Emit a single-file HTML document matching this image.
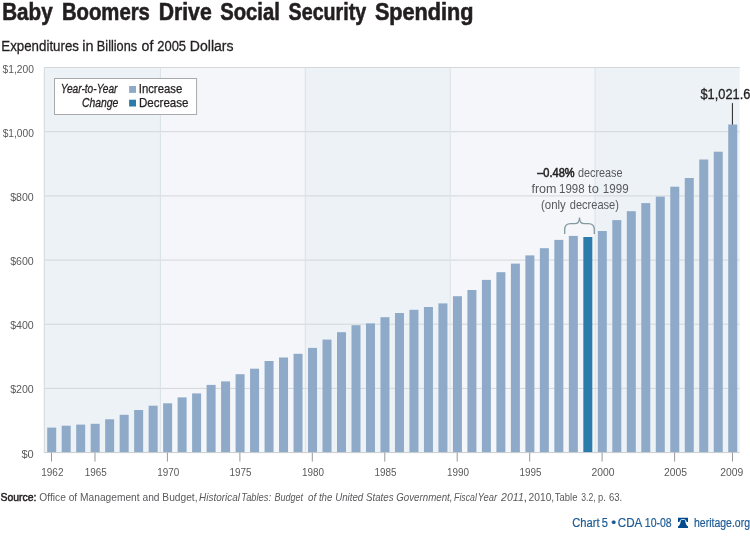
<!DOCTYPE html>
<html><head><meta charset="utf-8"><title>Baby Boomers Drive Social Security Spending</title>
<style>
html,body{margin:0;padding:0;background:#fff;}
body{width:750px;height:536px;overflow:hidden;font-family:"Liberation Sans",sans-serif;}
svg{display:block;font-family:"Liberation Sans",sans-serif;will-change:transform;}
</style></head><body>
<svg width="750" height="536" viewBox="0 0 750 536">
<rect x="0" y="0" width="750" height="536" fill="#ffffff"/>
<rect x="44.3" y="67.5" width="116.1" height="385.1" fill="#edf2f6"/>
<rect x="160.4" y="67.5" width="144.9" height="385.1" fill="#f4f6f9"/>
<rect x="305.3" y="67.5" width="144.9" height="385.1" fill="#edf2f6"/>
<rect x="450.2" y="67.5" width="144.9" height="385.1" fill="#f4f6f9"/>
<rect x="595.1" y="67.5" width="144.6" height="385.1" fill="#edf2f6"/>
<line x1="44.3" x2="739.7" y1="388.4" y2="388.4" stroke="#d3d7da" stroke-width="1"/>
<line x1="44.3" x2="739.7" y1="324.2" y2="324.2" stroke="#d3d7da" stroke-width="1"/>
<line x1="44.3" x2="739.7" y1="260.1" y2="260.1" stroke="#d3d7da" stroke-width="1"/>
<line x1="44.3" x2="739.7" y1="195.9" y2="195.9" stroke="#d3d7da" stroke-width="1"/>
<line x1="44.3" x2="739.7" y1="131.7" y2="131.7" stroke="#d3d7da" stroke-width="1"/>
<line x1="44.3" x2="739.7" y1="67.5" y2="67.5" stroke="#d3d7da" stroke-width="1"/>
<line x1="160.4" x2="160.4" y1="67.5" y2="452.6" stroke="#dbe1e7" stroke-width="1"/>
<line x1="305.3" x2="305.3" y1="67.5" y2="452.6" stroke="#dbe1e7" stroke-width="1"/>
<line x1="450.2" x2="450.2" y1="67.5" y2="452.6" stroke="#dbe1e7" stroke-width="1"/>
<line x1="595.1" x2="595.1" y1="67.5" y2="452.6" stroke="#dbe1e7" stroke-width="1"/>
<line x1="44.3" x2="44.3" y1="67.5" y2="452.6" stroke="#d3d7da" stroke-width="1"/>
<rect x="47.20" y="427.6" width="9.0" height="25.0" fill="#8eaac8"/>
<rect x="61.69" y="425.7" width="9.0" height="26.9" fill="#8eaac8"/>
<rect x="76.18" y="424.6" width="9.0" height="28.0" fill="#8eaac8"/>
<rect x="90.67" y="423.8" width="9.0" height="28.8" fill="#8eaac8"/>
<rect x="105.16" y="419.3" width="9.0" height="33.3" fill="#8eaac8"/>
<rect x="119.65" y="414.8" width="9.0" height="37.8" fill="#8eaac8"/>
<rect x="134.14" y="410.0" width="9.0" height="42.6" fill="#8eaac8"/>
<rect x="148.63" y="405.7" width="9.0" height="46.9" fill="#8eaac8"/>
<rect x="163.12" y="403.3" width="9.0" height="49.3" fill="#8eaac8"/>
<rect x="177.61" y="397.4" width="9.0" height="55.2" fill="#8eaac8"/>
<rect x="192.10" y="393.4" width="9.0" height="59.2" fill="#8eaac8"/>
<rect x="206.59" y="384.9" width="9.0" height="67.7" fill="#8eaac8"/>
<rect x="221.08" y="381.4" width="9.0" height="71.2" fill="#8eaac8"/>
<rect x="235.57" y="374.2" width="9.0" height="78.4" fill="#8eaac8"/>
<rect x="250.06" y="368.7" width="9.0" height="83.9" fill="#8eaac8"/>
<rect x="264.55" y="361.0" width="9.0" height="91.6" fill="#8eaac8"/>
<rect x="279.04" y="357.5" width="9.0" height="95.1" fill="#8eaac8"/>
<rect x="293.53" y="353.8" width="9.0" height="98.8" fill="#8eaac8"/>
<rect x="308.02" y="347.9" width="9.0" height="104.7" fill="#8eaac8"/>
<rect x="322.51" y="339.6" width="9.0" height="113.0" fill="#8eaac8"/>
<rect x="337.00" y="332.2" width="9.0" height="120.4" fill="#8eaac8"/>
<rect x="351.49" y="325.2" width="9.0" height="127.4" fill="#8eaac8"/>
<rect x="365.98" y="323.4" width="9.0" height="129.2" fill="#8eaac8"/>
<rect x="380.47" y="317.2" width="9.0" height="135.4" fill="#8eaac8"/>
<rect x="394.96" y="313.0" width="9.0" height="139.6" fill="#8eaac8"/>
<rect x="409.45" y="309.8" width="9.0" height="142.8" fill="#8eaac8"/>
<rect x="423.94" y="307.0" width="9.0" height="145.6" fill="#8eaac8"/>
<rect x="438.43" y="303.4" width="9.0" height="149.2" fill="#8eaac8"/>
<rect x="452.92" y="296.2" width="9.0" height="156.4" fill="#8eaac8"/>
<rect x="467.41" y="290.0" width="9.0" height="162.6" fill="#8eaac8"/>
<rect x="481.90" y="279.9" width="9.0" height="172.7" fill="#8eaac8"/>
<rect x="496.39" y="272.2" width="9.0" height="180.4" fill="#8eaac8"/>
<rect x="510.88" y="263.6" width="9.0" height="189.0" fill="#8eaac8"/>
<rect x="525.37" y="255.4" width="9.0" height="197.2" fill="#8eaac8"/>
<rect x="539.86" y="248.2" width="9.0" height="204.4" fill="#8eaac8"/>
<rect x="554.35" y="239.9" width="9.0" height="212.7" fill="#8eaac8"/>
<rect x="568.84" y="235.9" width="9.0" height="216.7" fill="#8eaac8"/>
<rect x="583.33" y="237.0" width="9.0" height="215.6" fill="#2b7cab"/>
<rect x="597.82" y="231.0" width="9.0" height="221.6" fill="#8eaac8"/>
<rect x="612.31" y="220.1" width="9.0" height="232.5" fill="#8eaac8"/>
<rect x="626.80" y="211.2" width="9.0" height="241.4" fill="#8eaac8"/>
<rect x="641.29" y="203.1" width="9.0" height="249.5" fill="#8eaac8"/>
<rect x="655.78" y="196.6" width="9.0" height="256.0" fill="#8eaac8"/>
<rect x="670.27" y="186.7" width="9.0" height="265.9" fill="#8eaac8"/>
<rect x="684.76" y="178.0" width="9.0" height="274.6" fill="#8eaac8"/>
<rect x="699.25" y="159.5" width="9.0" height="293.1" fill="#8eaac8"/>
<rect x="713.74" y="151.7" width="9.0" height="300.9" fill="#8eaac8"/>
<rect x="728.23" y="124.5" width="9.0" height="328.1" fill="#8eaac8"/>
<line x1="44.3" x2="739.7" y1="452.6" y2="452.6" stroke="#c9cdd0" stroke-width="1"/>
<line x1="51.5" x2="51.5" y1="452.6" y2="461.6" stroke="#97999c" stroke-width="1"/>
<line x1="95.0" x2="95.0" y1="452.6" y2="461.6" stroke="#97999c" stroke-width="1"/>
<line x1="167.4" x2="167.4" y1="452.6" y2="461.6" stroke="#97999c" stroke-width="1"/>
<line x1="239.9" x2="239.9" y1="452.6" y2="461.6" stroke="#97999c" stroke-width="1"/>
<line x1="312.3" x2="312.3" y1="452.6" y2="461.6" stroke="#97999c" stroke-width="1"/>
<line x1="384.8" x2="384.8" y1="452.6" y2="461.6" stroke="#97999c" stroke-width="1"/>
<line x1="457.2" x2="457.2" y1="452.6" y2="461.6" stroke="#97999c" stroke-width="1"/>
<line x1="529.7" x2="529.7" y1="452.6" y2="461.6" stroke="#97999c" stroke-width="1"/>
<line x1="602.1" x2="602.1" y1="452.6" y2="461.6" stroke="#97999c" stroke-width="1"/>
<line x1="674.6" x2="674.6" y1="452.6" y2="461.6" stroke="#97999c" stroke-width="1"/>
<line x1="732.5" x2="732.5" y1="452.6" y2="461.6" stroke="#97999c" stroke-width="1"/>
<rect x="54.5" y="78.5" width="142.1" height="36" fill="#ffffff" stroke="#a7a9ac" stroke-width="1"/>
<rect x="129.1" y="86.0" width="6.9" height="6.9" fill="#8eaac8"/>
<rect x="129.1" y="99.7" width="6.9" height="6.8" fill="#2b7cab"/>
<path d="M564.7 234 V229.6 Q564.7 223.6 570.7 223.6 H574.6 Q579.5 223.6 579.5 217.4 Q579.5 223.6 584.4 223.6 H588.3 Q594.3 223.6 594.3 229.6 V234" fill="none" stroke="#8398a1" stroke-width="1.3"/>
<line x1="732.4" x2="732.4" y1="103.1" y2="124.6" stroke="#231f20" stroke-width="1"/>
<g fill="#004b8d"><path d="M678 517.8 H688 V521.9 H686.7 Q686 518.9 683 518.9 Q680 518.9 679.3 521.9 H678 Z"/><path d="M680.8 520.3 Q683 519.2 685.2 520.3 C685.5 523.8 686.2 525.2 688 526.6 V527.9 H678 V526.6 C679.8 525.2 680.5 523.8 680.8 520.3 Z"/></g>
<text x="2.21" y="19.5" font-size="24" fill="#231f20" textLength="50.45" lengthAdjust="spacingAndGlyphs" font-weight="bold" stroke="#231f20" stroke-width="0.6">Baby</text>
<text x="61.93" y="19.5" font-size="24" fill="#231f20" textLength="87.94" lengthAdjust="spacingAndGlyphs" font-weight="bold" stroke="#231f20" stroke-width="0.6">Boomers</text>
<text x="158.68" y="19.5" font-size="24" fill="#231f20" textLength="53.03" lengthAdjust="spacingAndGlyphs" font-weight="bold" stroke="#231f20" stroke-width="0.6">Drive</text>
<text x="220.17" y="19.5" font-size="24" fill="#231f20" textLength="59.67" lengthAdjust="spacingAndGlyphs" font-weight="bold" stroke="#231f20" stroke-width="0.6">Social</text>
<text x="288.59" y="19.5" font-size="24" fill="#231f20" textLength="77.59" lengthAdjust="spacingAndGlyphs" font-weight="bold" stroke="#231f20" stroke-width="0.6">Security</text>
<text x="374.92" y="19.5" font-size="24" fill="#231f20" textLength="98.60" lengthAdjust="spacingAndGlyphs" font-weight="bold" stroke="#231f20" stroke-width="0.6">Spending</text>
<text x="1.30" y="50.9" font-size="15.2" fill="#231f20" textLength="77.67" lengthAdjust="spacingAndGlyphs" stroke="#231f20" stroke-width="0.3">Expenditures</text>
<text x="82.25" y="50.9" font-size="15.2" fill="#231f20" textLength="11.28" lengthAdjust="spacingAndGlyphs" stroke="#231f20" stroke-width="0.3">in</text>
<text x="96.85" y="50.9" font-size="15.2" fill="#231f20" textLength="40.27" lengthAdjust="spacingAndGlyphs" stroke="#231f20" stroke-width="0.3">Billions</text>
<text x="141.50" y="50.9" font-size="15.2" fill="#231f20" textLength="11.83" lengthAdjust="spacingAndGlyphs" stroke="#231f20" stroke-width="0.3">of</text>
<text x="157.26" y="50.9" font-size="15.2" fill="#231f20" textLength="28.82" lengthAdjust="spacingAndGlyphs" stroke="#231f20" stroke-width="0.3">2005</text>
<text x="189.84" y="50.9" font-size="15.2" fill="#231f20" textLength="43.73" lengthAdjust="spacingAndGlyphs" stroke="#231f20" stroke-width="0.3">Dollars</text>
<text x="21.46" y="457.6" font-size="11.3" fill="#58595b" textLength="12.26" lengthAdjust="spacingAndGlyphs">$0</text>
<text x="10.17" y="393.4" font-size="11.3" fill="#58595b" textLength="23.60" lengthAdjust="spacingAndGlyphs">$200</text>
<text x="10.17" y="329.2" font-size="11.3" fill="#58595b" textLength="23.60" lengthAdjust="spacingAndGlyphs">$400</text>
<text x="10.17" y="265.1" font-size="11.3" fill="#58595b" textLength="23.60" lengthAdjust="spacingAndGlyphs">$600</text>
<text x="10.17" y="200.9" font-size="11.3" fill="#58595b" textLength="23.60" lengthAdjust="spacingAndGlyphs">$800</text>
<text x="2.67" y="136.7" font-size="11.3" fill="#58595b" textLength="31.23" lengthAdjust="spacingAndGlyphs">$1,000</text>
<text x="2.57" y="72.5" font-size="11.3" fill="#58595b" textLength="31.34" lengthAdjust="spacingAndGlyphs">$1,200</text>
<text x="41.24" y="475.7" font-size="11.3" fill="#58595b" textLength="22.23" lengthAdjust="spacingAndGlyphs">1962</text>
<text x="84.71" y="475.7" font-size="11.3" fill="#58595b" textLength="22.00" lengthAdjust="spacingAndGlyphs">1965</text>
<text x="157.16" y="475.7" font-size="11.3" fill="#58595b" textLength="22.00" lengthAdjust="spacingAndGlyphs">1970</text>
<text x="229.61" y="475.7" font-size="11.3" fill="#58595b" textLength="22.00" lengthAdjust="spacingAndGlyphs">1975</text>
<text x="302.06" y="475.7" font-size="11.3" fill="#58595b" textLength="22.00" lengthAdjust="spacingAndGlyphs">1980</text>
<text x="374.51" y="475.7" font-size="11.3" fill="#58595b" textLength="22.00" lengthAdjust="spacingAndGlyphs">1985</text>
<text x="446.96" y="475.7" font-size="11.3" fill="#58595b" textLength="22.00" lengthAdjust="spacingAndGlyphs">1990</text>
<text x="519.41" y="475.7" font-size="11.3" fill="#58595b" textLength="22.00" lengthAdjust="spacingAndGlyphs">1995</text>
<text x="591.46" y="475.7" font-size="11.3" fill="#58595b" textLength="23.02" lengthAdjust="spacingAndGlyphs">2000</text>
<text x="663.91" y="475.7" font-size="11.3" fill="#58595b" textLength="23.02" lengthAdjust="spacingAndGlyphs">2005</text>
<text x="720.14" y="475.7" font-size="11.3" fill="#58595b" textLength="23.02" lengthAdjust="spacingAndGlyphs">2009</text>
<text x="60.73" y="93.1" font-size="13" fill="#231f20" textLength="56.79" lengthAdjust="spacingAndGlyphs" font-style="italic" stroke="#231f20" stroke-width="0.3">Year-to-Year</text>
<text x="81.90" y="107.0" font-size="13" fill="#231f20" textLength="36.44" lengthAdjust="spacingAndGlyphs" font-style="italic" stroke="#231f20" stroke-width="0.3">Change</text>
<text x="138.78" y="93.0" font-size="12.6" fill="#231f20" textLength="43.43" lengthAdjust="spacingAndGlyphs" stroke="#231f20" stroke-width="0.25">Increase</text>
<text x="138.98" y="106.6" font-size="12.6" fill="#231f20" textLength="49.52" lengthAdjust="spacingAndGlyphs" stroke="#231f20" stroke-width="0.25">Decrease</text>
<text x="537.20" y="177.3" font-size="12.2" fill="#231f20" textLength="37.41" lengthAdjust="spacingAndGlyphs" stroke="#231f20" stroke-width="0.55">–0.48%</text>
<text x="577.96" y="177.3" font-size="12.2" fill="#58595b" textLength="44.61" lengthAdjust="spacingAndGlyphs">decrease</text>
<text x="531.44" y="192.8" font-size="12.2" fill="#58595b" textLength="25.06" lengthAdjust="spacingAndGlyphs">from</text>
<text x="559.06" y="192.8" font-size="12.2" fill="#58595b" textLength="25.53" lengthAdjust="spacingAndGlyphs">1998</text>
<text x="588.14" y="192.8" font-size="12.2" fill="#58595b" textLength="10.71" lengthAdjust="spacingAndGlyphs">to</text>
<text x="602.85" y="192.8" font-size="12.2" fill="#58595b" textLength="25.74" lengthAdjust="spacingAndGlyphs">1999</text>
<text x="541.00" y="208.5" font-size="12.2" fill="#58595b" textLength="24.76" lengthAdjust="spacingAndGlyphs">(only</text>
<text x="569.75" y="208.5" font-size="12.2" fill="#58595b" textLength="49.19" lengthAdjust="spacingAndGlyphs">decrease)</text>
<text x="700.47" y="99.3" font-size="13.8" fill="#231f20" textLength="49.90" lengthAdjust="spacingAndGlyphs" stroke="#231f20" stroke-width="0.3">$1,021.6</text>
<text x="0.45" y="501.4" font-size="11.5" fill="#231f20" textLength="35.99" lengthAdjust="spacingAndGlyphs" stroke="#231f20" stroke-width="0.5">Source:</text>
<text x="39.36" y="501.4" font-size="11.5" fill="#58595b" textLength="158.17" lengthAdjust="spacingAndGlyphs">Office of Management and Budget,</text>
<text x="199.07" y="501.4" font-size="11.5" fill="#58595b" textLength="40.96" lengthAdjust="spacingAndGlyphs" font-style="italic">Historical</text>
<text x="241.29" y="501.4" font-size="11.5" fill="#58595b" textLength="29.74" lengthAdjust="spacingAndGlyphs" font-style="italic">Tables:</text>
<text x="274.41" y="501.4" font-size="11.5" fill="#58595b" textLength="28.56" lengthAdjust="spacingAndGlyphs" font-style="italic">Budget</text>
<text x="308.08" y="501.4" font-size="11.5" fill="#58595b" textLength="144.44" lengthAdjust="spacingAndGlyphs" font-style="italic">of the United States Government,</text>
<text x="454.02" y="501.4" font-size="11.5" fill="#58595b" textLength="22.91" lengthAdjust="spacingAndGlyphs" font-style="italic">Fiscal</text>
<text x="477.68" y="501.4" font-size="11.5" fill="#58595b" textLength="19.35" lengthAdjust="spacingAndGlyphs" font-style="italic">Year</text>
<text x="501.10" y="501.4" font-size="11.5" fill="#58595b" textLength="22.70" lengthAdjust="spacingAndGlyphs" font-style="italic">2011</text>
<text x="523.58" y="501.4" font-size="11.5" fill="#58595b" textLength="3.59" lengthAdjust="spacingAndGlyphs">,</text>
<text x="528.55" y="501.4" font-size="11.5" fill="#58595b" textLength="25.67" lengthAdjust="spacingAndGlyphs">2010,</text>
<text x="554.79" y="501.4" font-size="11.5" fill="#58595b" textLength="22.62" lengthAdjust="spacingAndGlyphs">Table</text>
<text x="581.33" y="501.4" font-size="11.5" fill="#58595b" textLength="14.38" lengthAdjust="spacingAndGlyphs">3.2,</text>
<text x="598.09" y="501.4" font-size="11.5" fill="#58595b" textLength="7.80" lengthAdjust="spacingAndGlyphs">p.</text>
<text x="608.89" y="501.4" font-size="11.5" fill="#58595b" textLength="13.24" lengthAdjust="spacingAndGlyphs">63.</text>
<text x="572.24" y="526.6" font-size="12" fill="#1d5b94" textLength="27.25" lengthAdjust="spacingAndGlyphs" stroke="#1d5b94" stroke-width="0.2">Chart</text>
<text x="601.64" y="526.6" font-size="12" fill="#1d5b94" textLength="6.16" lengthAdjust="spacingAndGlyphs" stroke="#1d5b94" stroke-width="0.2">5</text>
<text x="611.32" y="526.6" font-size="12" fill="#1d5b94" textLength="4.91" lengthAdjust="spacingAndGlyphs" stroke="#1d5b94" stroke-width="0.2">•</text>
<text x="617.82" y="526.6" font-size="12" fill="#1d5b94" textLength="24.58" lengthAdjust="spacingAndGlyphs" stroke="#1d5b94" stroke-width="0.2">CDA</text>
<text x="644.82" y="526.6" font-size="12" fill="#1d5b94" textLength="26.87" lengthAdjust="spacingAndGlyphs" stroke="#1d5b94" stroke-width="0.2">10-08</text>
<text x="694.04" y="526.6" font-size="12" fill="#1d5b94" textLength="55.95" lengthAdjust="spacingAndGlyphs" stroke="#1d5b94" stroke-width="0.2">heritage.org</text>
</svg></body></html>
